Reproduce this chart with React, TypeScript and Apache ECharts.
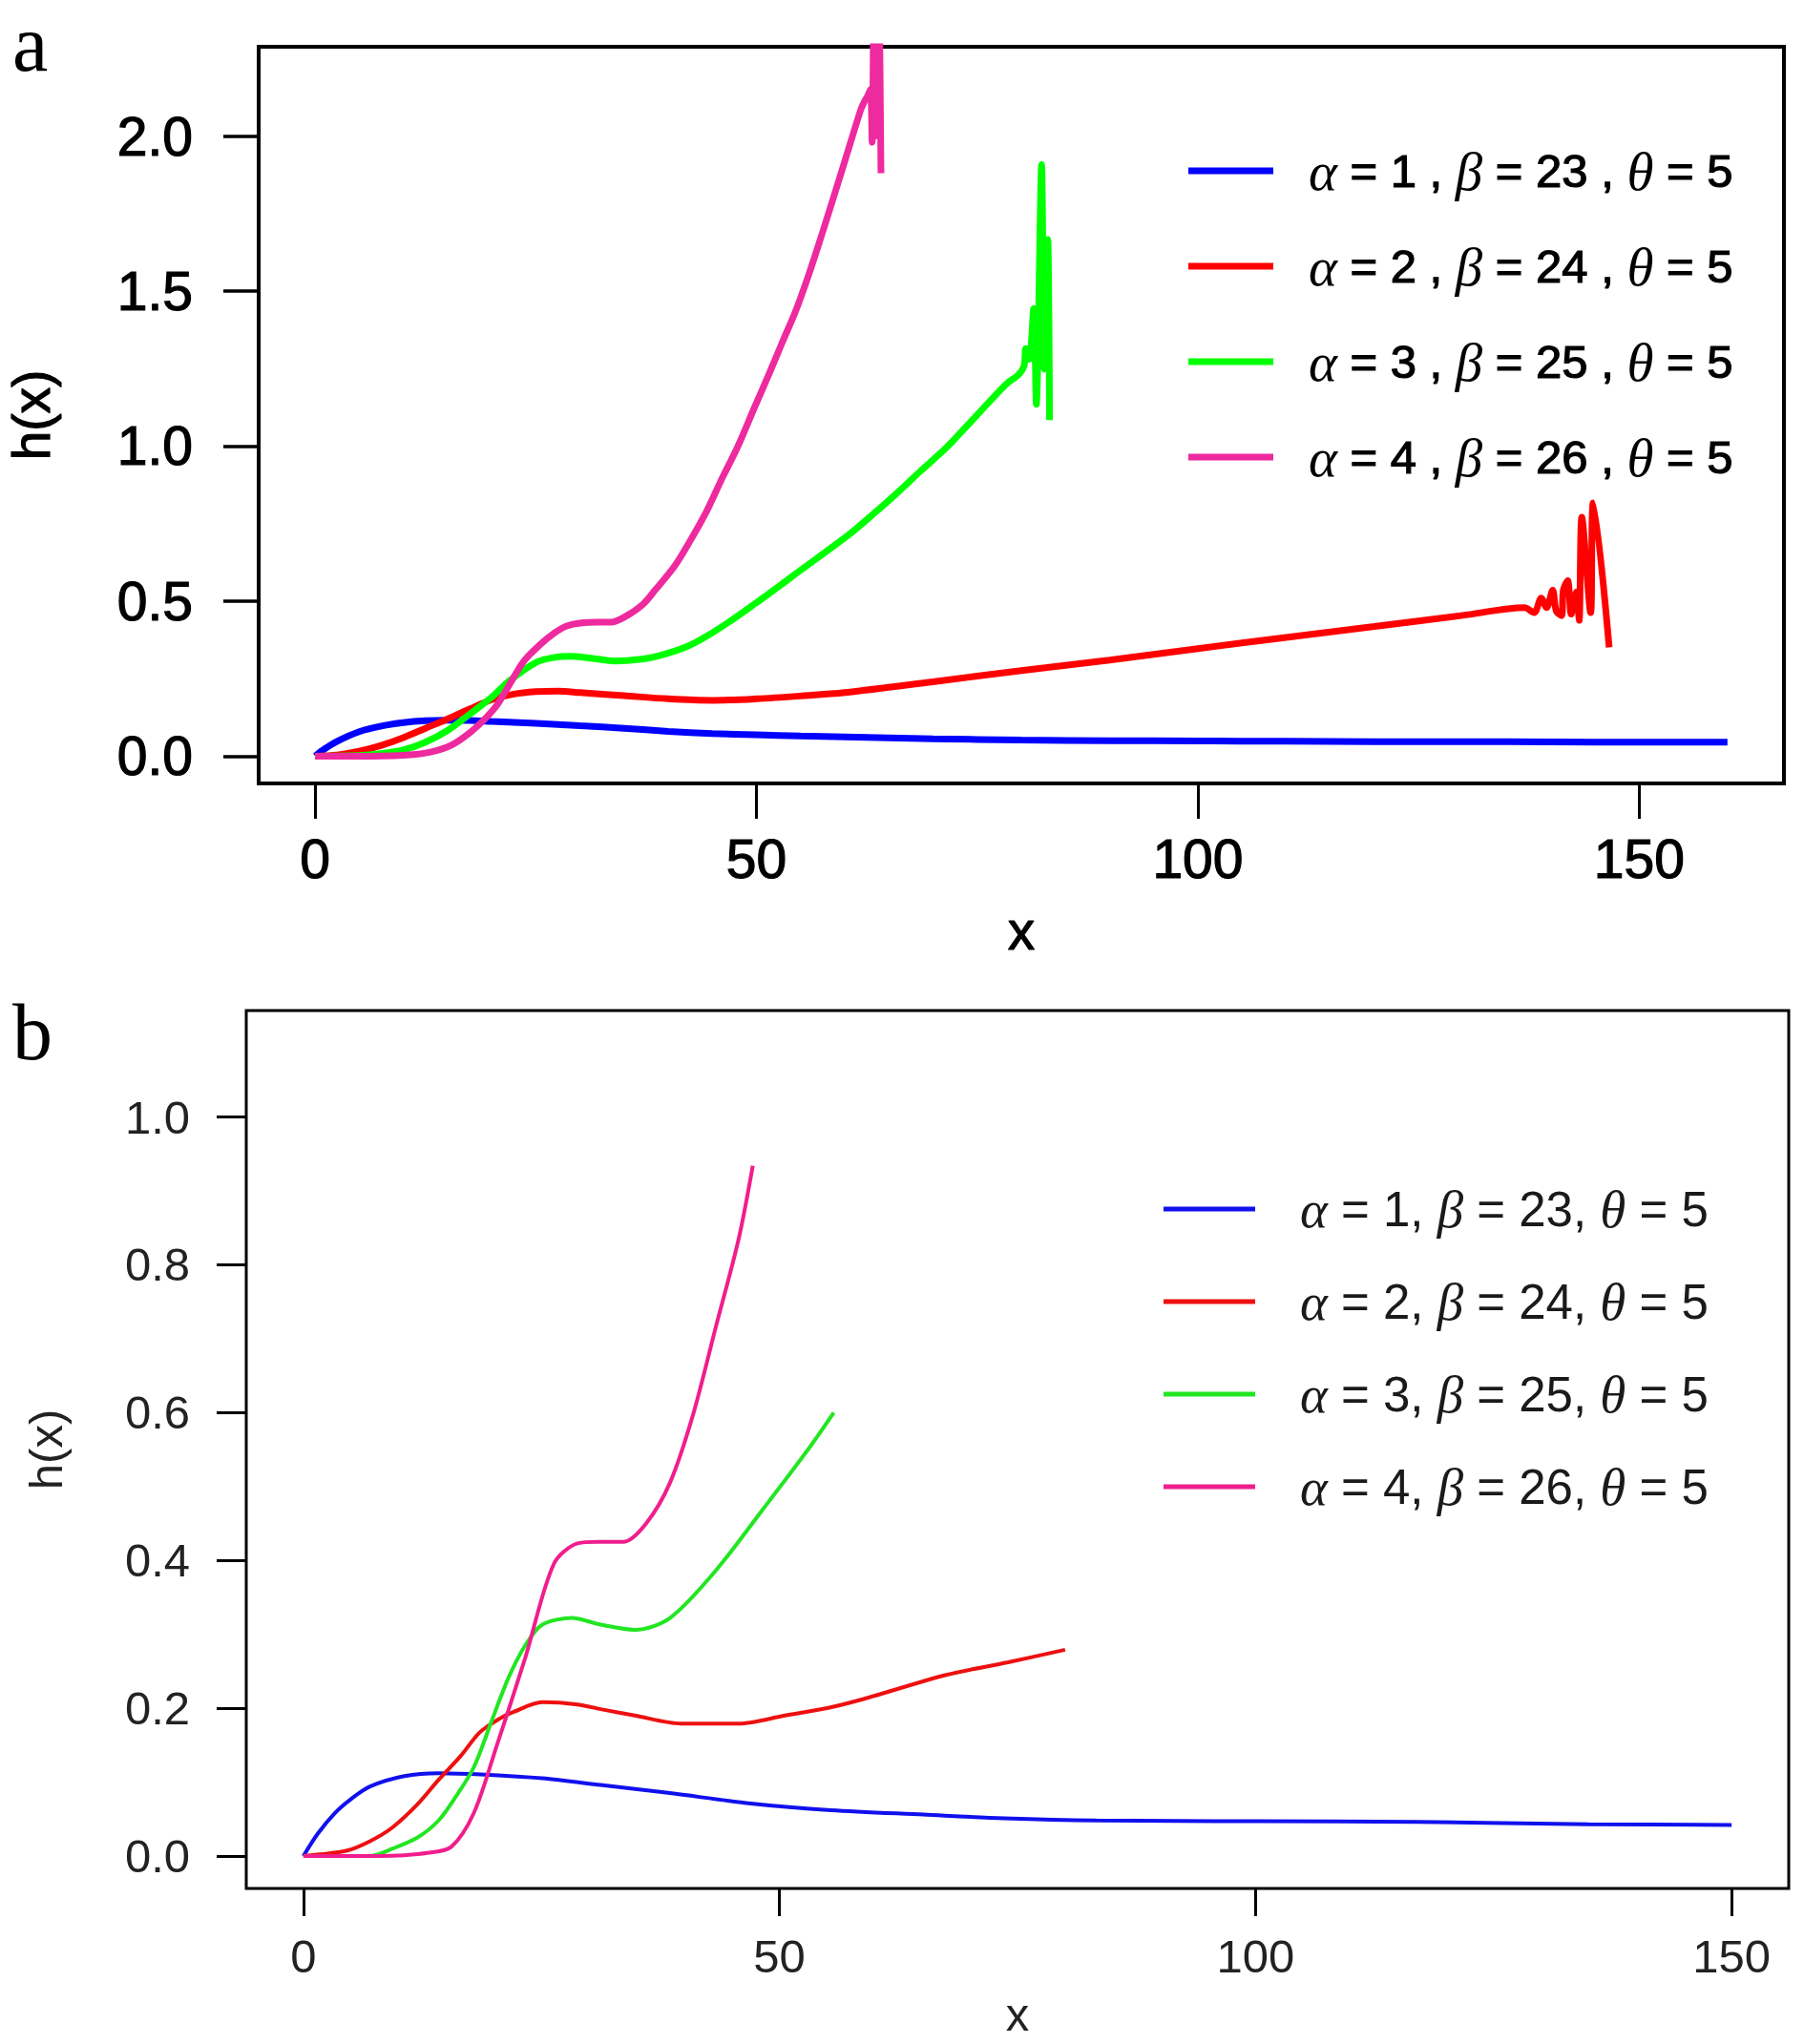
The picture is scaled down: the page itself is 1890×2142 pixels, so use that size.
import { useEffect, useRef } from "react";
import * as echarts from "echarts";

// legend parameters
const alphas = [1, 2, 3, 4];
const betas = [23, 24, 25, 26];
const theta = 5;

// panel a curves
const aBlueX = [0, 1, 2.5, 5, 7.5, 10, 12.5, 15, 17.5, 20, 25, 30, 35, 40, 45, 50, 55, 60, 70, 80, 90, 100, 110, 120, 130, 140, 150, 160];
const aBlueY = [0, 0.022, 0.048, 0.079, 0.097, 0.108, 0.114, 0.116, 0.115, 0.112, 0.106, 0.098, 0.09, 0.08, 0.073, 0.069, 0.065, 0.062, 0.056, 0.052, 0.05, 0.049, 0.048, 0.047, 0.047, 0.046, 0.045, 0.045];

const aRedX = [0, 2.5, 5, 7.5, 10, 12.5, 15, 17.5, 20, 22.5, 25, 27.5, 30, 35, 40, 45, 50, 55, 60, 70, 80, 90, 100, 110, 120, 130, 137, 138.1, 138.9, 139.5, 140.2, 140.6, 141.2, 141.4, 141.9, 142.3, 142.9, 143.2, 143.5, 144.5, 144.8, 146.6];
const aRedY = [0, 0.004, 0.016, 0.035, 0.06, 0.09, 0.12, 0.152, 0.182, 0.2, 0.208, 0.21, 0.205, 0.195, 0.185, 0.18, 0.185, 0.194, 0.205, 0.24, 0.276, 0.31, 0.347, 0.383, 0.418, 0.454, 0.479, 0.463, 0.51, 0.479, 0.535, 0.468, 0.453, 0.535, 0.566, 0.458, 0.53, 0.438, 0.771, 0.463, 0.817, 0.351];

const aGreenX = [0, 5, 7.5, 10, 12.5, 15, 17.5, 20, 22, 25, 27, 29, 31, 34, 37, 39, 42, 44.3, 47, 49.7, 52.4, 55.1, 57.8, 60.5, 63.2, 65.9, 68.6, 71.4, 74, 76.8, 78.5, 79.6, 80.3, 80.5, 80.9, 81.4, 81.7, 82.3, 82.6, 83.0, 83.2];
const aGreenY = [0, 0.002, 0.008, 0.02, 0.045, 0.083, 0.135, 0.19, 0.243, 0.302, 0.318, 0.322, 0.317, 0.307, 0.313, 0.324, 0.352, 0.386, 0.435, 0.489, 0.545, 0.602, 0.658, 0.715, 0.78, 0.848, 0.92, 0.992, 1.07, 1.156, 1.205, 1.228, 1.258, 1.315, 1.28, 1.443, 1.135, 1.908, 1.248, 1.666, 1.084];

const aPinkX = [0, 5, 10, 12.5, 15, 16.7, 18.5, 20.5, 22, 23.6, 25.5, 27.1, 28.5, 30.2, 32, 33.5, 35, 37.1, 38.5, 40.7, 42.5, 44.3, 46, 47.9, 49.7, 51.5, 53, 54.4, 56, 57.6, 59.8, 61.8, 62.2, 62.6, 62.9, 63.1, 63.3, 63.5, 63.8, 64.1];
const aPinkY = [0, 0, 0.003, 0.01, 0.03, 0.058, 0.1, 0.161, 0.23, 0.305, 0.36, 0.397, 0.42, 0.43, 0.432, 0.432, 0.448, 0.489, 0.535, 0.612, 0.695, 0.787, 0.89, 1.0, 1.12, 1.238, 1.34, 1.433, 1.56, 1.7, 1.9, 2.084, 2.11, 2.13, 2.15, 1.98, 2.45, 2.0, 2.6, 1.88];

// panel b curves
const bBlueX = [0, 1.5, 3.3, 5, 7, 10.6, 14.2, 19.1, 25.1, 31.2, 38.5, 47, 55.4, 65.1, 73.6, 83.3, 100, 117, 135, 150];
const bBlueY = [0, 0.03, 0.058, 0.077, 0.094, 0.108, 0.112, 0.11, 0.105, 0.096, 0.085, 0.071, 0.062, 0.056, 0.051, 0.048, 0.047, 0.046, 0.043, 0.042];

const bRedX = [0, 4.5, 7, 9.4, 12, 14.2, 16.5, 18.5, 20.5, 22.1, 25.1, 28.8, 31.5, 34.8, 39.7, 45.7, 50.6, 55, 59, 67.5, 74, 80];
const bRedY = [0, 0.007, 0.02, 0.039, 0.07, 0.103, 0.135, 0.167, 0.185, 0.195, 0.208, 0.205, 0.198, 0.19, 0.179, 0.179, 0.19, 0.2, 0.213, 0.245, 0.262, 0.279];

const bGreenX = [0, 7, 9.4, 12, 14.2, 16, 17.9, 19.7, 21.5, 23.3, 25.1, 28.2, 31.2, 34.8, 38.5, 43.3, 48.2, 53, 55.7];
const bGreenY = [0, 0, 0.01, 0.025, 0.048, 0.08, 0.12, 0.18, 0.24, 0.285, 0.313, 0.322, 0.313, 0.306, 0.322, 0.386, 0.468, 0.55, 0.6];

const bPinkX = [0, 8, 10.6, 13, 15.5, 17.9, 20.3, 23.3, 26.3, 28.8, 31, 33.6, 36, 38.5, 40.9, 43.3, 45.7, 47.2];
const bPinkY = [0, 0, 0.001, 0.004, 0.012, 0.058, 0.149, 0.268, 0.395, 0.423, 0.425, 0.425, 0.45, 0.505, 0.596, 0.715, 0.834, 0.934];

// ticks
const aXTicks = [0, 50, 100, 150];
const aYTicks = [0, 0.5, 1, 1.5, 2];
const bXTicks = [0, 50, 100, 150];
const bYTicks = [0, 0.2, 0.4, 0.6, 0.8, 1];

const aColors = ["#0000ff", "#ff0000", "#00ff00", "#ee2a9f"];
const bColors = ["#1010ee", "#ee1010", "#22e622", "#f01e8c"];

const zip = (xs: number[], ys: number[]) => xs.map((x, i) => [x, ys[i]]);

const aNames = alphas.map((a, i) => `α = ${a} , β = ${betas[i]} , θ = ${theta}`);
const bNames = alphas.map((a, i) => `α = ${a}, β = ${betas[i]}, θ = ${theta}`);

const SANS = "Liberation Sans";
const SERIF = "Liberation Serif";

const App = () => {
  const ref = useRef<HTMLDivElement>(null);

  useEffect(() => {
    document.body.style.margin = "0";
    if (!ref.current) return;
    const chart = echarts.init(ref.current, null, { renderer: "svg" });

    const heavy = { textBorderColor: "#000", textBorderWidth: 1.2 };

    const mkSeries = (name: string, data: number[][], color: string, width: number, idx: number) => ({
      type: "line",
      name,
      data,
      xAxisIndex: idx,
      yAxisIndex: idx,
      showSymbol: false,
      symbol: "none",
      smooth: 0.3,
      color,
      lineStyle: { color, width },
      itemStyle: { color },
      emphasis: { disabled: true },
    });

    const aData = [zip(aBlueX, aBlueY), zip(aRedX, aRedY), zip(aGreenX, aGreenY), zip(aPinkX, aPinkY)];
    const bData = [zip(bBlueX, bBlueY), zip(bRedX, bRedY), zip(bGreenX, bGreenY), zip(bPinkX, bPinkY)];

    const legendA = (name: string) => {
      const i = aNames.indexOf(name);
      return `{sp| }{g|α}{t| = ${alphas[i]} , }{g|β}{t| = ${betas[i]} , }{g|θ}{t| = ${theta}}`;
    };
    const legendB = (name: string) => {
      const i = bNames.indexOf(name);
      return `{sp| }{g|α}{t| = ${alphas[i]}, }{g|β}{t| = ${betas[i]}, }{g|θ}{t| = ${theta}}`;
    };

    const option: any = {
      animation: false,
      textStyle: { fontFamily: SANS },
      grid: [
        { left: 271, top: 49, width: 1598, height: 772, show: true, borderColor: "#000", borderWidth: 4, outerBoundsMode: "none", containLabel: false },
        { left: 258, top: 1059, width: 1616, height: 920, show: true, borderColor: "#000", borderWidth: 3, outerBoundsMode: "none", containLabel: false },
      ],
      xAxis: [
        {
          type: "value",
          gridIndex: 0,
          min: -6.4,
          max: 166.4,
          axisLine: { show: false, onZero: false },
          splitLine: { show: false },
          axisTick: { show: true, customValues: aXTicks, length: 37, lineStyle: { color: "#000", width: 3 } },
          axisLabel: { customValues: aXTicks, margin: 50, fontSize: 57, color: "#000", fontFamily: SANS, ...heavy },
          name: "x",
          nameLocation: "middle",
          nameGap: 154,
          nameTextStyle: { fontSize: 57, color: "#000", fontFamily: SANS, verticalAlign: "middle", ...heavy },
        },
        {
          type: "value",
          gridIndex: 1,
          min: -6,
          max: 156,
          axisLine: { show: false, onZero: false },
          splitLine: { show: false },
          axisTick: { show: true, customValues: bXTicks, length: 29, lineStyle: { color: "#000", width: 3 } },
          axisLabel: { customValues: bXTicks, margin: 46, fontSize: 49, color: "#222", fontFamily: SANS },
          name: "x",
          nameLocation: "middle",
          nameGap: 132,
          nameTextStyle: { fontSize: 49, color: "#222", fontFamily: SANS, verticalAlign: "middle" },
        },
      ],
      yAxis: [
        {
          type: "value",
          gridIndex: 0,
          min: -0.088,
          max: 2.288,
          axisLine: { show: false, onZero: false },
          splitLine: { show: false },
          axisTick: { show: true, customValues: aYTicks, length: 37, lineStyle: { color: "#000", width: 3.5 } },
          axisLabel: {
            customValues: aYTicks,
            margin: 69,
            fontSize: 57,
            color: "#000",
            fontFamily: SANS,
            formatter: (v: number) => v.toFixed(1),
            ...heavy,
          },
          name: "h(x)",
          nameLocation: "middle",
          nameGap: 238,
          nameTextStyle: { fontSize: 55, color: "#000", fontFamily: SANS, verticalAlign: "middle", lineHeight: 56, ...heavy },
        },
        {
          type: "value",
          gridIndex: 1,
          min: -0.044,
          max: 1.144,
          axisLine: { show: false, onZero: false },
          splitLine: { show: false },
          axisTick: { show: true, customValues: bYTicks, length: 31, lineStyle: { color: "#000", width: 3 } },
          axisLabel: {
            customValues: bYTicks,
            margin: 59,
            fontSize: 49,
            color: "#222",
            fontFamily: SANS,
            formatter: (v: number) => v.toFixed(1),
          },
          name: "h(x)",
          nameLocation: "middle",
          nameGap: 210,
          nameTextStyle: { fontSize: 49, color: "#222", fontFamily: SANS, verticalAlign: "middle" },
        },
      ],
      legend: [
        {
          data: aNames,
          orient: "vertical",
          left: 1245,
          top: 149,
          padding: 0,
          itemWidth: 89,
          itemHeight: 7,
          itemGap: 40,
          icon: "rect",
          selectedMode: false,
          formatter: legendA,
          textStyle: {
            lineHeight: 60,
            rich: {
              sp: { width: 32, lineHeight: 60 },
              g: { fontFamily: SERIF, fontStyle: "italic", fontSize: 57, color: "#000", lineHeight: 60 },
              t: { fontFamily: SANS, fontSize: 49, color: "#000", lineHeight: 60, ...heavy },
            },
          },
        },
        {
          data: bNames,
          orient: "vertical",
          left: 1219,
          top: 1237,
          padding: 0,
          itemWidth: 96,
          itemHeight: 5,
          itemGap: 37,
          icon: "rect",
          selectedMode: false,
          formatter: legendB,
          textStyle: {
            lineHeight: 60,
            rich: {
              sp: { width: 42, lineHeight: 60 },
              g: { fontFamily: SERIF, fontStyle: "italic", fontSize: 55, color: "#1a1a1a", lineHeight: 60 },
              t: { fontFamily: SANS, fontSize: 51, color: "#1a1a1a", lineHeight: 60 },
            },
          },
        },
      ],
      graphic: [
        {
          type: "text",
          x: 13,
          y: 45,
          style: { text: "a", font: `84px "${SERIF}"`, fill: "#000", align: "left", verticalAlign: "middle", textAlign: "left", textVerticalAlign: "middle" },
        },
        {
          type: "text",
          x: 13,
          y: 1081,
          style: { text: "b", font: `84px "${SERIF}"`, fill: "#000", align: "left", verticalAlign: "middle", textAlign: "left", textVerticalAlign: "middle" },
        },
      ],
      series: [
        ...aNames.map((n, i) => mkSeries(n, aData[i], aColors[i], 7, 0)),
        ...bNames.map((n, i) => mkSeries(n, bData[i], bColors[i], 4, 1)),
      ],
    };

    chart.setOption(option);
    return () => chart.dispose();
  }, []);

  return <div ref={ref} style={{ width: 1890, height: 2142 }} />;
};

export default App;
